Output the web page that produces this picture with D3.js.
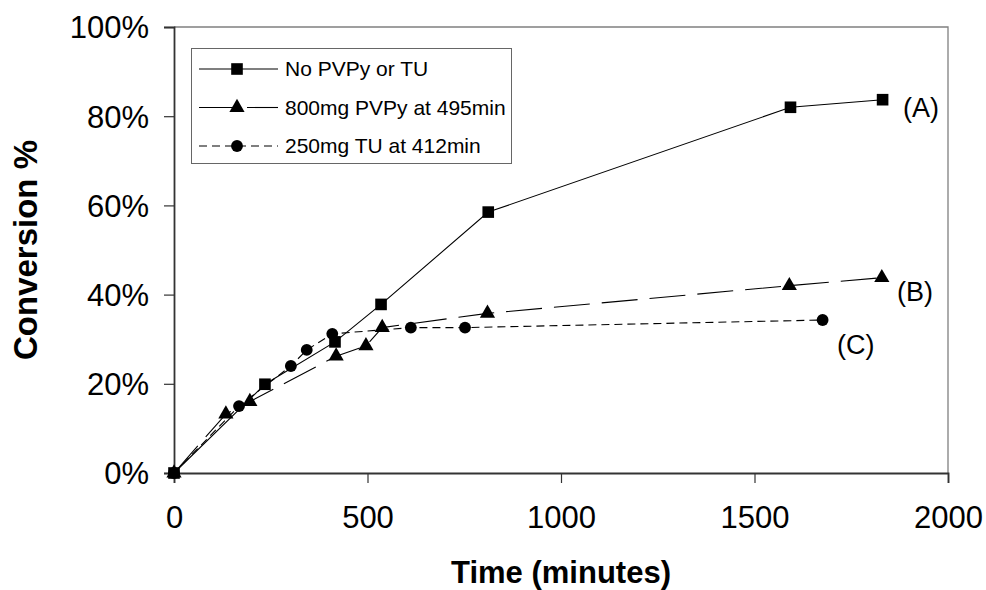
<!DOCTYPE html>
<html>
<head>
<meta charset="utf-8">
<script src="https://cdn.jsdelivr.net/npm/d3@7"></script>
<style>
  body { margin: 0; background: #fff; }
  svg { font-family: "Liberation Sans", Arial, sans-serif; }
</style>
</head>
<body>
<svg width="986" height="590"></svg>
<script>
// data
const timeA = [0, 235, 416, 535, 812, 1593, 1831];
const convA = [0, 19.9, 29.4, 37.8, 58.5, 82.0, 83.7];

const timeB = [0, 134, 196, 419, 496, 538, 810, 1590, 1829];
const convB = [0, 13.2, 16.0, 26.2, 28.5, 32.6, 35.8, 42.0, 43.8];

const timeC = [0, 168, 302, 343, 409, 612, 752, 1676];
const convC = [0, 15.0, 24.0, 27.6, 31.2, 32.6, 32.6, 34.3];

const seriesNames = ['No PVPy or TU', '800mg PVPy at 495min', '250mg TU at 412min'];
const endLabels = ['(A)', '(B)', '(C)'];
const xTicks = [0, 500, 1000, 1500, 2000];
const yTicks = [0, 20, 40, 60, 80, 100];

(function (d3) {
    'use strict';
    const svg = d3.select('svg');
    const left = 174, right = 948, top = 27, bottom = 473;

    const x = d3.scaleLinear().domain([0, 2000]).range([left, right]);
    const y = d3.scaleLinear().domain([0, 100]).range([bottom, top]);

    const series = [
        { name: seriesNames[0], t: timeA, v: convA, dash: null, symbol: d3.symbolSquare, size: 135, label: endLabels[0], lx: 903, ly: 108 },
        { name: seriesNames[1], t: timeB, v: convB, dash: '36,12', symbol: d3.symbolTriangle, size: 100, label: endLabels[1], lx: 897, ly: 292 },
        { name: seriesNames[2], t: timeC, v: convC, dash: '8,5', symbol: d3.symbolCircle, size: 110, label: endLabels[2], lx: 837, ly: 345 }
    ];

    // frame: top and right in grey
    svg.append('path')
        .attr('d', `M${left},${top}H${right}V${bottom}`)
        .attr('fill', 'none')
        .attr('stroke', '#808080')
        .attr('stroke-width', 1.3);

    const xAxis = svg.append('g')
        .attr('transform', `translate(0,${bottom})`)
        .call(d3.axisBottom(x).tickValues(xTicks).tickSize(10).tickPadding(23)
            .tickFormat(d3.format('d')));
    const yAxis = svg.append('g')
        .attr('transform', `translate(${left},0)`)
        .call(d3.axisLeft(y).tickValues(yTicks).tickSize(10).tickPadding(15)
            .tickFormat(d => d + '%'));

    [xAxis, yAxis].forEach(a => {
        a.select('.domain').attr('stroke', '#333').attr('stroke-width', 1.8);
        a.selectAll('.tick line').attr('stroke', '#333').attr('stroke-width', 1.2);
        a.selectAll('.tick text')
            .attr('fill', '#000')
            .style('font-family', '"Liberation Sans", Arial, sans-serif')
            .style('font-size', '31px');
    });
    yAxis.selectAll('.tick text').attr('dy', '0.35em');
    xAxis.selectAll('.tick text').attr('dy', '0.71em');

    // axis titles
    svg.append('text')
        .attr('x', (left + right) / 2)
        .attr('y', 583)
        .attr('text-anchor', 'middle')
        .style('font-size', '31px')
        .style('font-weight', 'bold')
        .text('Time (minutes)');
    svg.append('text')
        .attr('transform', `translate(37,${(top + bottom) / 2}) rotate(-90)`)
        .attr('text-anchor', 'middle')
        .style('font-size', '33px')
        .style('font-weight', 'bold')
        .text('Conversion %');

    const line = d3.line().x(d => x(d[0])).y(d => y(d[1]));

    series.forEach(s => {
        const pts = s.t.map((t, i) => [t, s.v[i]]);
        const g = svg.append('g');
        g.append('path')
            .datum(pts)
            .attr('d', line)
            .attr('fill', 'none')
            .attr('stroke', '#000')
            .attr('stroke-width', 1.1)
            .attr('stroke-dasharray', s.dash);
        g.selectAll('path.mark').data(pts)
          .enter().append('path')
            .attr('class', 'mark')
            .attr('transform', d => `translate(${x(d[0])},${y(d[1])})`)
            .attr('d', d3.symbol().type(s.symbol).size(s.size))
            .attr('fill', '#000');
        svg.append('text')
            .attr('x', s.lx)
            .attr('y', s.ly)
            .attr('dy', '0.35em')
            .style('font-size', '27px')
            .text(s.label);
    });

    // legend
    const legend = svg.append('g');
    legend.append('rect')
        .attr('x', 191.5).attr('y', 48.5)
        .attr('width', 320).attr('height', 115)
        .attr('fill', '#fff')
        .attr('stroke', '#666')
        .attr('stroke-width', 1);
    const items = legend.selectAll('g.item').data(series)
        .enter().append('g')
        .attr('class', 'item')
        .attr('transform', (d, i) => `translate(0,${69 + i * 38.5})`);
    items.append('line')
        .attr('x1', 199).attr('x2', 278)
        .attr('stroke', '#000')
        .attr('stroke-width', 1.1)
        .attr('stroke-dasharray', d => d.dash);
    items.append('path')
        .attr('transform', 'translate(237,0)')
        .attr('d', d => d3.symbol().type(d.symbol).size(d.size)())
        .attr('fill', '#000');
    items.append('text')
        .attr('x', 285)
        .attr('dy', '0.35em')
        .style('font-size', '21px')
        .text(d => d.name);
}(d3));
</script>
</body>
</html>
